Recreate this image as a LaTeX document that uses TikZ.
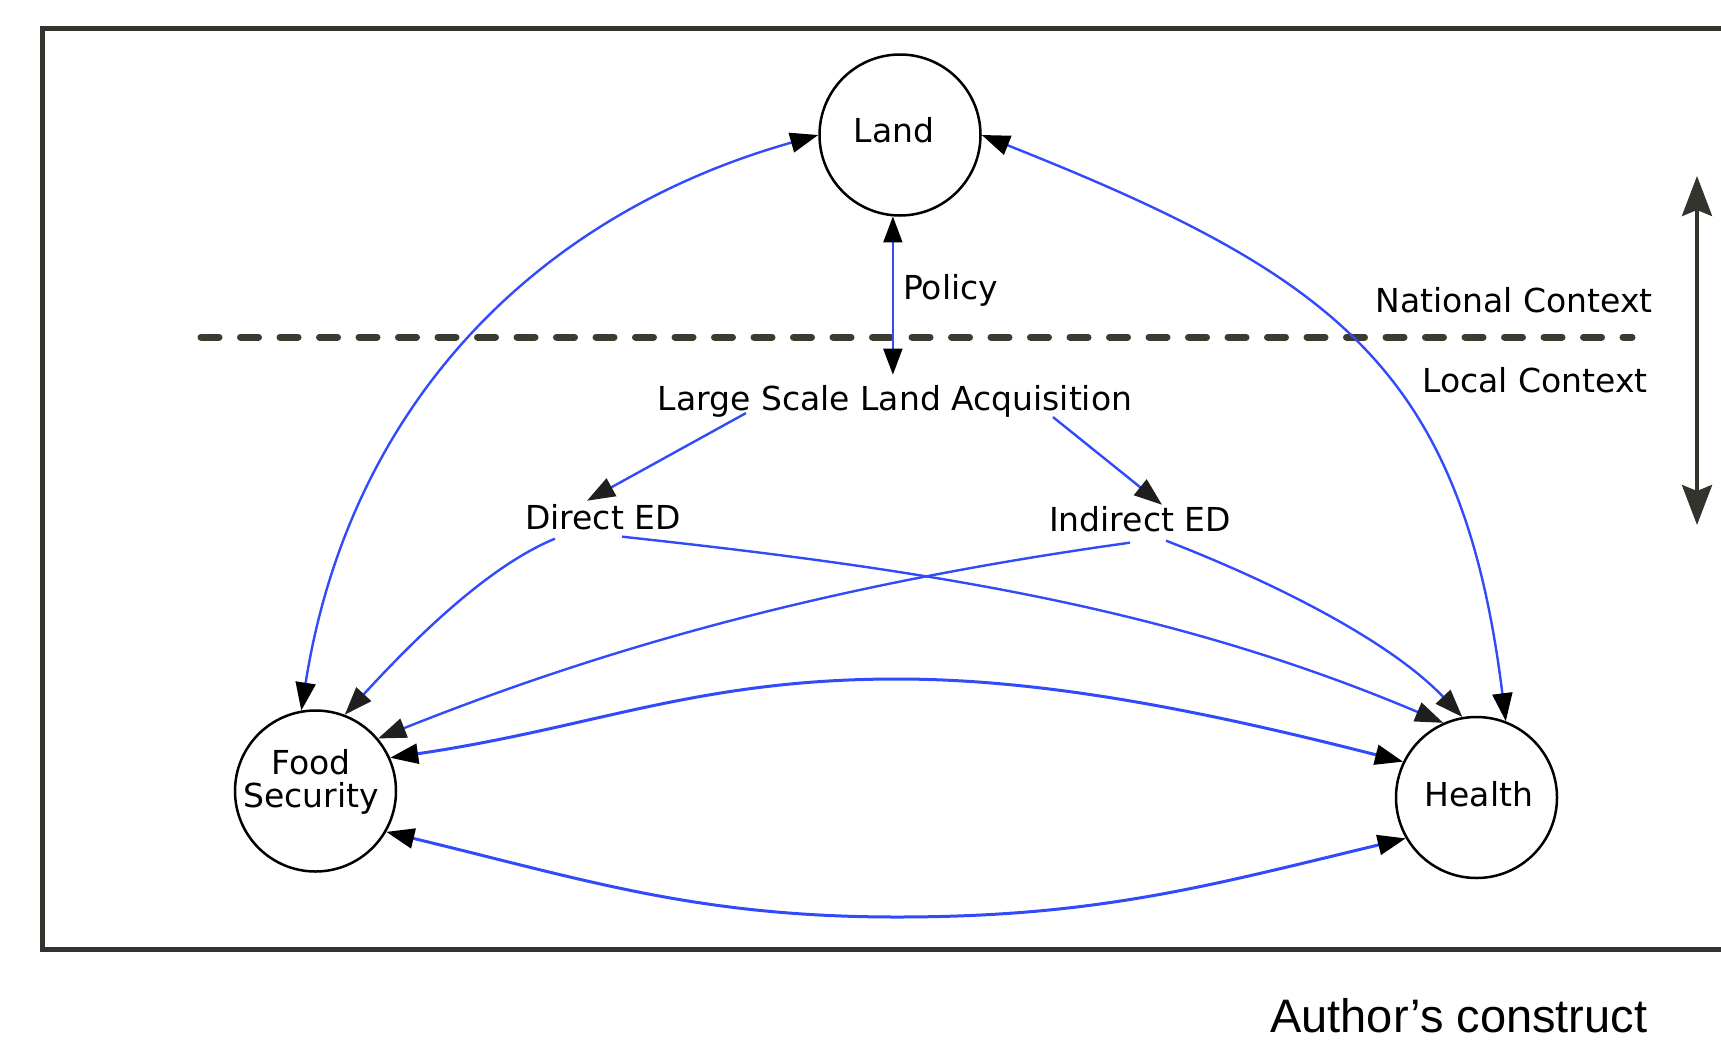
\documentclass[tikz,border=0pt]{standalone}
\usepackage{fontspec}
\setmainfont{DejaVu Sans}
\newfontfamily\arialfont{Liberation Sans}
\usetikzlibrary{arrows.meta,calc}
\definecolor{edgeblue}{RGB}{50,75,250}
\definecolor{framec}{RGB}{52,52,46}
\definecolor{dashc}{RGB}{58,60,48}
\tikzset{
  circ/.style={circle, draw=black, line width=2.5pt, minimum size=161pt, inner sep=0pt},
  txt/.style={font=\fontsize{33}{33}\selectfont, inner sep=0pt},
  edge/.style={draw=edgeblue, line width=2.4pt},
  thickedge/.style={draw=edgeblue, line width=3pt},
  ar/.style={-{Triangle[length=28pt,width=20pt,color=black!88]}},
  dar/.style={{Triangle[length=28pt,width=20pt,color=black]}-{Triangle[length=28pt,width=20pt,color=black]}},
  bigdar/.style={{Stealth[length=40pt,width=30pt,inset=6pt]}-{Stealth[length=40pt,width=30pt,inset=6pt]}}
}
\begin{document}
\begin{tikzpicture}[x=1pt,y=-1pt]
\useasboundingbox (0,0) rectangle (1721,1039);
\clip (0,0) rectangle (1721,1039);
\fill[white] (0,0) rectangle (1721,1039);

% frame
\draw[framec, line width=5pt] (42,28.5) rectangle (1780,949.5);

% dashed separator
\draw[dashc, line width=7pt, line cap=round, dash pattern=on 18pt off 21.5pt] (201,337) -- (1632,337);

% circles
\node[circ] (land) at (900,135) {};
\node[txt, anchor=base] (landt) at (894,142) {Land};
\node[circ] (fs) at (315.5,791) {};
\node[txt, anchor=base] (fst1) at (311,774) {Food};
\node[txt, anchor=base] (fst2) at (311,807) {Security};
\node[circ] (hl) at (1476.5,797.5) {};
\node[txt, anchor=base] (hlt) at (1479,806) {Health};

% text nodes
\node[txt, anchor=base] (lsla) at (895,410) {Large Scale Land Acquisition};
\node[txt, anchor=base] (ded) at (603,529) {Direct ED};
\node[txt, anchor=base] (ied) at (1140,531) {Indirect ED};
\node[txt, anchor=base west] (pol) at (903,299) {Policy};
\node[txt, anchor=base east] (nat) at (1653,312) {National Context};
\node[txt, anchor=base east] (loc) at (1648,392) {Local Context};
\node[font=\arialfont\fontsize{47}{47}\selectfont, inner sep=0pt, anchor=base west] (auth) at (1270,1032) {Author’s construct};

% context arrow
\coordinate (ctop) at (1697,176);
\coordinate (cbot) at (1697,525);
\draw[framec, line width=4pt, bigdar] (ctop) -- (cbot);

% policy
\draw[edge, line width=1.8pt, {Triangle[length=26pt,width=19pt,color=black]}-{Triangle[length=26pt,width=19pt,color=black]}] (land.265) -- ($(land.265 |- lsla.north)+(0,-10)$);

% LSLA to ED nodes
\draw[edge, ar] ($(lsla.south)+(-149,-4)$) -- ($(ded.north)+(-16,-3)$);
\draw[edge, ar] ($(lsla.south)+(158,0)$) -- ($(ied.north)+(22,-1)$);

% ED nodes to outcomes
\draw[edge, ar] ($(ded.south)+(-48,9)$) .. controls (481,569) and (401,654) .. (fs.69);
\draw[edge, ar] ($(ded.south)+(19,7)$) .. controls (920,569) and (1167,606) .. (hl.114);
\draw[edge, ar] ($(ied.south)+(-10,11)$) .. controls (833,584) and (610,646) .. (fs.40);
\draw[edge, ar] ($(ied.south)+(26,9)$) .. controls (1278,584) and (1391,642) .. (hl.100);

% Land arcs
\draw[edge, dar] (land.180) .. controls (528,217) and (348,413) .. (fs.100);
\draw[edge, dar] (land.0) .. controls (1334,275) and (1462,368) .. (hl.69);

% FS <-> Health
\draw[thickedge, dar] (fs.24) .. controls (593,728) and (697,679) .. (897,679)
   .. controls (1047,679) and (1208,712) .. (hl.154);
\draw[thickedge, dar] (fs.-30) .. controls (586,880) and (697,917) .. (897,917)
   .. controls (1097,917) and (1208,886) .. (hl.210);
\end{tikzpicture}
\end{document}
